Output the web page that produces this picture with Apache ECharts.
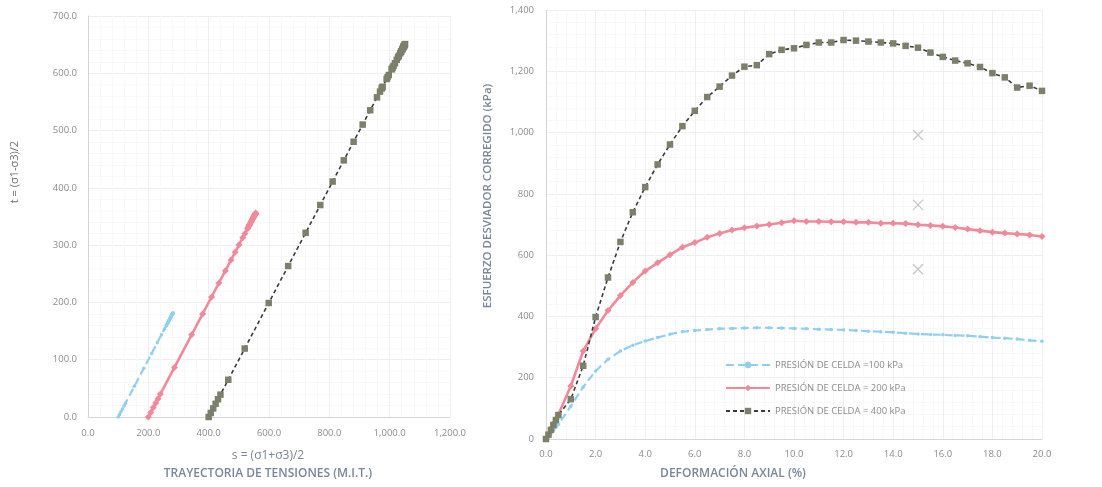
<!DOCTYPE html>
<html>
<head>
<meta charset="utf-8">
<script src="https://cdn.jsdelivr.net/npm/echarts@6/dist/echarts.min.js"></script>
<style>
  html, body { margin: 0; padding: 0; background: #ffffff; }
  #chart { width: 1102px; height: 487px; }
</style>
</head>
<body>
<div id="chart"></div>
<script>
// Axial strain (%) at each reading
const strain = [0, 0.1, 0.2, 0.3, 0.4, 0.5, 1.0, 1.5, 2.0, 2.5, 3.0, 3.5, 4.0, 4.5, 5.0, 5.5, 6.0, 6.5, 7.0, 7.5,
  8.0, 8.5, 9.0, 9.5, 10.0, 10.5, 11.0, 11.5, 12.0, 12.5, 13.0, 13.5, 14.0, 14.5, 15.0, 15.5, 16.0, 16.5, 17.0, 17.5,
  18.0, 18.5, 19.0, 19.5, 20.0];

// Corrected deviator stress (kPa) for each cell pressure
const dev100 = [0, 9, 18, 28, 38, 48, 107, 170, 222, 260, 287, 306, 320, 331, 342, 350, 354, 357, 360, 361,
  362, 363, 363, 362, 361, 360, 358, 357, 356, 354, 352, 350, 348, 345, 343, 341, 340, 338, 337, 334,
  331, 329, 326, 322, 319];
const dev200 = [0, 16, 33, 49, 64, 80, 173, 287, 360, 419, 468, 511, 548, 575, 601, 626, 641, 658, 671, 682,
  689, 695, 700, 706, 712, 710, 710, 709, 709, 707, 707, 704, 704, 703, 699, 697, 694, 690, 685, 680,
  675, 672, 669, 666, 661];
const dev400 = [0, 14, 30, 46, 62, 78, 130, 239, 398, 527, 643, 740, 822, 896, 961, 1021, 1071, 1116, 1150, 1186,
  1215, 1220, 1256, 1270, 1275, 1286, 1294, 1294, 1302, 1300, 1297, 1294, 1291, 1283, 1277, 1261, 1247, 1235, 1226, 1214,
  1194, 1180, 1147, 1153, 1136];

// Cell pressures (kPa)
const cellPressures = [100, 200, 400];
const seriesNames = ['PRESIÓN DE CELDA =100 kPa', 'PRESIÓN DE CELDA = 200 kPa', 'PRESIÓN DE CELDA = 400 kPa'];

// Stand-alone marks at 15 % strain
const crossStrain = [15.0, 15.0, 15.0];
const crossValues = [992, 764, 554];

// Axis tick settings
const leftXTicks = { min: 0, max: 1200, step: 200 };
const leftYTicks = { min: 0, max: 700, step: 100 };
const rightXTicks = { min: 0, max: 20, step: 2 };
const rightYTicks = { min: 0, max: 1400, step: 200 };

const colors = { c100: '#8fd0ef', c200: '#f2899b', line400: '#3a3a3a', mark400: '#7a806a' };
const font = "'Open Sans', 'Liberation Sans', sans-serif";
const tickColor = '#8c8c8c';
const titleColor = '#7a8699';

// Stress-path points: s = (σ1+σ3)/2 = σ3 + q/2, t = (σ1-σ3)/2 = q/2
function pathPoints(dev, sigma3) {
  return dev.map(q => [sigma3 + q / 2, q / 2]);
}
function curvePoints(dev) {
  return dev.map((q, i) => [strain[i], q]);
}

const fmt1 = v => v.toLocaleString('en-US', { minimumFractionDigits: 1, maximumFractionDigits: 1 });
const fmt0 = v => v.toLocaleString('en-US');

const crossPath = 'path://M0,0 L10,10 M10,0 L0,10';

function axisCommon() {
  return {
    axisLine: { show: true, lineStyle: { color: '#d6d6d6', width: 1 } },
    axisTick: { show: false },
    splitLine: { show: true, lineStyle: { color: '#efefef', width: 1 } },
    minorTick: { show: false, splitNumber: 5 },
    minorSplitLine: { show: true, lineStyle: { color: '#f8f8f8', width: 1 } },
    axisLabel: { color: tickColor, fontSize: 9.5, fontFamily: font }
  };
}

const styles = [
  {
    color: colors.c100,
    lineStyle: { color: colors.c100, width: 2.2, type: [8, 4] },
    symbol: 'circle', symbolSize: 3.5,
    itemStyle: { color: colors.c100 }
  },
  {
    color: colors.c200,
    lineStyle: { color: colors.c200, width: 2.6, type: 'solid' },
    symbol: 'diamond', symbolSize: 7,
    itemStyle: { color: colors.c200 }
  },
  {
    color: colors.mark400,
    lineStyle: { color: colors.line400, width: 1.6, type: [4, 3] },
    symbol: 'rect', symbolSize: 6.5,
    itemStyle: { color: colors.mark400 }
  }
];
const devs = [dev100, dev200, dev400];

const series = [];
devs.forEach((dev, i) => {
  series.push(Object.assign({
    name: seriesNames[i], type: 'line', xAxisIndex: 0, yAxisIndex: 0,
    data: pathPoints(dev, cellPressures[i]), showSymbol: true, showAllSymbol: true, animation: false, z: 3 + i
  }, styles[i]));
});
devs.forEach((dev, i) => {
  series.push(Object.assign({
    name: seriesNames[i], type: 'line', xAxisIndex: 1, yAxisIndex: 1,
    data: curvePoints(dev), showSymbol: true, showAllSymbol: true, animation: false, z: 3 + i
  }, styles[i]));
});
series.push({
  name: 'marks', type: 'scatter', xAxisIndex: 1, yAxisIndex: 1,
  data: crossStrain.map((x, i) => [x, crossValues[i]]),
  symbol: crossPath, symbolSize: 10,
  itemStyle: { color: 'rgba(0,0,0,0)', borderColor: '#b9b9b9', borderWidth: 1.3 },
  animation: false
});

const chart = echarts.init(document.getElementById('chart'), null, { renderer: 'canvas' });
chart.setOption({
  backgroundColor: '#ffffff',
  textStyle: { fontFamily: font },
  grid: [
    { left: 88, right: 652, top: 16, bottom: 70 },
    { left: 546, right: 60, top: 10, bottom: 48 }
  ],
  xAxis: [
    Object.assign(axisCommon(), {
      type: 'value', gridIndex: 0, min: leftXTicks.min, max: leftXTicks.max, interval: leftXTicks.step,
      axisLabel: { color: tickColor, fontSize: 9.5, fontFamily: font, margin: 11, formatter: fmt1 }
    }),
    Object.assign(axisCommon(), {
      type: 'value', gridIndex: 1, min: rightXTicks.min, max: rightXTicks.max, interval: rightXTicks.step,
      axisLabel: { color: tickColor, fontSize: 9.5, fontFamily: font, margin: 10, formatter: fmt1 }
    })
  ],
  yAxis: [
    Object.assign(axisCommon(), {
      type: 'value', gridIndex: 0, min: leftYTicks.min, max: leftYTicks.max, interval: leftYTicks.step,
      axisLabel: { color: tickColor, fontSize: 9.5, fontFamily: font, margin: 11, formatter: fmt1 }
    }),
    Object.assign(axisCommon(), {
      type: 'value', gridIndex: 1, min: rightYTicks.min, max: rightYTicks.max, interval: rightYTicks.step,
      axisLabel: { color: tickColor, fontSize: 9.5, fontFamily: font, margin: 12, formatter: fmt0 }
    })
  ],
  legend: {
    data: seriesNames,
    orient: 'vertical',
    left: 720, top: 355,
    itemWidth: 44, itemHeight: 8, itemGap: 13,
    textStyle: { color: '#8c8c8c', fontSize: 9.5, fontFamily: font },
    selectedMode: false
  },
  graphic: [
    {
      type: 'text', x: 15, y: 172, rotation: Math.PI / 2,
      style: { text: 't = (σ1-σ3)/2', fill: '#6f6f6f', font: '11px ' + font, align: 'center', verticalAlign: 'middle' }
    },
    {
      type: 'text', x: 268, y: 456,
      style: { text: 's = (σ1+σ3)/2', fill: titleColor, font: '12px ' + font, align: 'center', verticalAlign: 'middle' }
    },
    {
      type: 'text', x: 268, y: 474,
      style: { text: 'TRAYECTORIA DE TENSIONES (M.I.T.)', fill: titleColor, font: '600 12px ' + font, align: 'center', verticalAlign: 'middle' }
    },
    {
      type: 'text', x: 488, y: 196, rotation: Math.PI / 2,
      style: { text: 'ESFUERZO DESVIADOR CORREGIDO (kPa)', fill: titleColor, font: '600 11.5px ' + font, align: 'center', verticalAlign: 'middle' }
    },
    {
      type: 'text', x: 733, y: 474,
      style: { text: 'DEFORMACIÓN AXIAL (%)', fill: titleColor, font: '600 12px ' + font, align: 'center', verticalAlign: 'middle' }
    }
  ],
  series: series
});
</script>
</body>
</html>
